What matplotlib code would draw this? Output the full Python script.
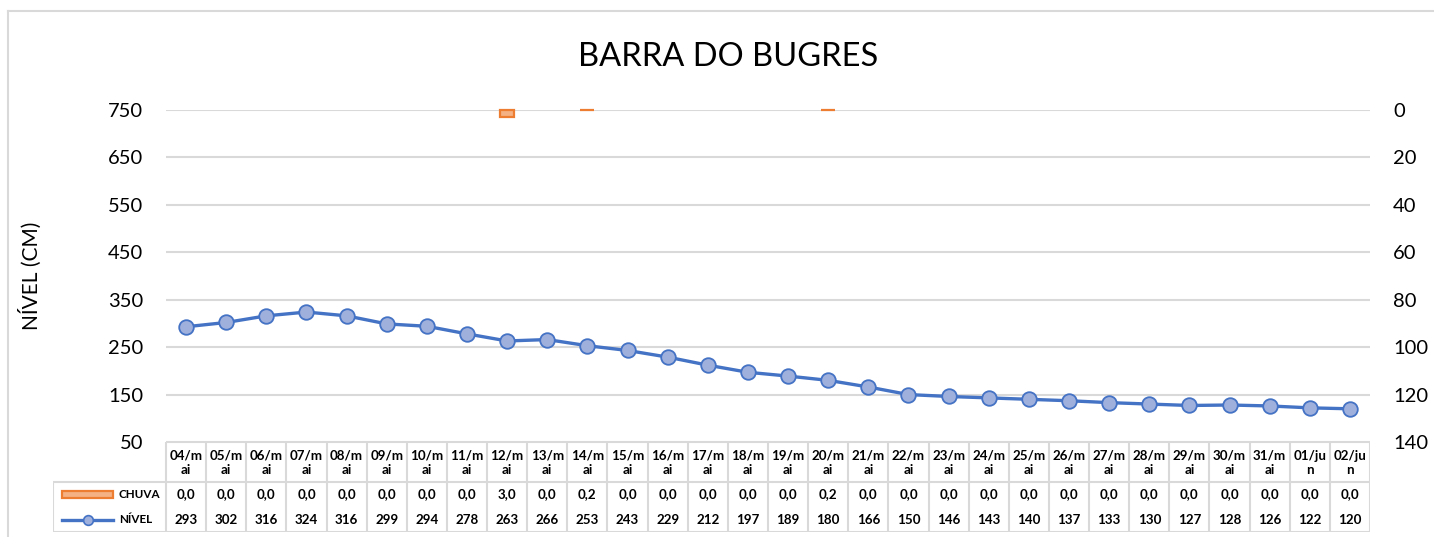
import matplotlib
matplotlib.use("Agg")
import matplotlib.pyplot as plt
from matplotlib.patches import Rectangle
from matplotlib.lines import Line2D

plt.rcParams['font.family'] = ['Lato', 'DejaVu Sans']

dates = ["04/mai", "05/mai", "06/mai", "07/mai", "08/mai", "09/mai", "10/mai", "11/mai",
         "12/mai", "13/mai", "14/mai", "15/mai", "16/mai", "17/mai", "18/mai", "19/mai",
         "20/mai", "21/mai", "22/mai", "23/mai", "24/mai", "25/mai", "26/mai", "27/mai",
         "28/mai", "29/mai", "30/mai", "31/mai", "01/jun", "02/jun"]
chuva = [0.0, 0.0, 0.0, 0.0, 0.0, 0.0, 0.0, 0.0, 3.0, 0.0, 0.2, 0.0, 0.0, 0.0, 0.0, 0.0,
         0.2, 0.0, 0.0, 0.0, 0.0, 0.0, 0.0, 0.0, 0.0, 0.0, 0.0, 0.0, 0.0, 0.0]
nivel = [293, 302, 316, 324, 316, 299, 294, 278, 263, 266, 253, 243, 229, 212, 197, 189,
         180, 166, 150, 146, 143, 140, 137, 133, 130, 127, 128, 126, 122, 120]
left_ticks = [50, 150, 250, 350, 450, 550, 650, 750]
right_ticks = [0, 20, 40, 60, 80, 100, 120, 140]
title = "BARRA DO BUGRES"
ylabel = "NÍVEL (CM)"

W, H = 1434, 537
ORANGE = "#ED7D31"
ORANGE_FILL = "#F4B183"
BLUE = "#4472C4"
BLUE_FILL = "#9FB0DD"
GRID = "#D9D9D9"

fig = plt.figure(figsize=(W / 100, H / 100), dpi=100)

def fx(px):
    return px / W

def fy(py):
    return 1 - py / H

def wrap_date(d):
    # header cells wrap like the narrow spreadsheet columns do
    cut = 4 if d.endswith("mai") else 5
    return d[:cut], d[cut:]

# outer chart border (top and left edges visible; the rest is cropped)
fig.add_artist(Line2D([fx(8), 1.01], [fy(11), fy(11)], transform=fig.transFigure,
                      color=GRID, lw=1.5))
fig.add_artist(Line2D([fx(8), fx(8)], [fy(11), -0.01], transform=fig.transFigure,
                      color=GRID, lw=1.5))

x0, x1, ytop, ybot = 166, 1370, 110, 442
ax = fig.add_axes([fx(x0), fy(ybot), fx(x1 - x0), fy(ytop) - fy(ybot)])
n = len(dates)
xs = list(range(n))
ax.set_xlim(-0.5, n - 0.5)
ax.set_ylim(50, 750)
ax.set_yticks(left_ticks)
ax.set_xticks([])
for s in ax.spines.values():
    s.set_visible(False)
ax.grid(axis='y', color=GRID, lw=1.5)
ax.set_axisbelow(True)
ax.tick_params(axis='y', length=0, pad=16.5, labelsize=14.5)
ax.plot(xs, nivel, color=BLUE, lw=2.4, marker='o', markersize=10.5,
        markerfacecolor=BLUE_FILL, markeredgecolor=BLUE, markeredgewidth=1.3, zorder=3)

ax2 = ax.twinx()
ax2.set_ylim(140, 0)
ax2.set_yticks(right_ticks)
for s in ax2.spines.values():
    s.set_visible(False)
ax2.tick_params(axis='y', length=0, pad=16.5, labelsize=14.5)
bars = ax2.bar(xs, chuva, width=0.35, color=ORANGE_FILL, edgecolor=ORANGE, lw=1.6, zorder=2)
for b in bars:
    b.set_clip_on(False)
    if b.get_height() == 0:
        b.set_visible(False)

fig.text(fx(728), fy(57), title, ha='center', va='center', fontsize=23.5)
fig.text(fx(30), fy(276), ylabel, ha='center', va='center', rotation=90, fontsize=15)

# data table below the plot
tx0, ty0, ty1 = 53, 442, 532
colw = (x1 - x0) / n
k = (x0 - tx0) / colw
tab = fig.add_axes([fx(tx0), fy(ty1), fx(x1 - tx0), fy(ty0) - fy(ty1)])
tab.set_xlim(-0.5 - k, n - 0.5)
tab.set_ylim(ty1 - ty0, 0)
tab.axis('off')
lk = dict(color=GRID, lw=1.5, solid_capstyle='butt')
tab.plot([-0.5, n - 0.5], [0, 0], **lk)
tab.plot([-0.5 - k, n - 0.5], [40, 40], **lk)
tab.plot([-0.5 - k, n - 0.5], [90, 90], **lk)
tab.plot([-0.5 - k, -0.5 - k], [40, 90], **lk)
for i in range(n + 1):
    tab.plot([i - 0.5, i - 0.5], [0, 90], **lk)

fs = 9.6
for i, d in enumerate(dates):
    a, b = wrap_date(d)
    tab.text(i, 13.5, a, ha='center', va='center', fontsize=fs, fontweight='bold')
    tab.text(i, 28.5, b, ha='center', va='center', fontsize=fs, fontweight='bold')
    tab.text(i, 52, f"{chuva[i]:.1f}".replace('.', ','), ha='center', va='center',
             fontsize=fs, fontweight='bold')
    tab.text(i, 77.5, f"{nivel[i]}", ha='center', va='center', fontsize=fs, fontweight='bold')

def tx(px):
    return -0.5 - k + (px - tx0) / colw

tab.add_patch(Rectangle((tx(62), 48.5), tx(113) - tx(62), 7.5, facecolor=ORANGE_FILL,
                        edgecolor=ORANGE, lw=1.6))
tab.text(tx(119), 52, "CHUVA", ha='left', va='center', fontsize=8.4, fontweight='bold')
tab.add_line(Line2D([tx(62), tx(113)], [77.5, 77.5], color=BLUE, lw=2.4))
tab.add_line(Line2D([tx(88)], [77.5], marker='o', markersize=7, markerfacecolor=BLUE_FILL,
                    markeredgecolor=BLUE, markeredgewidth=1.2))
tab.text(tx(119), 77.5, "NÍVEL", ha='left', va='center', fontsize=8.4, fontweight='bold')

fig.savefig("out.png", dpi=100)
